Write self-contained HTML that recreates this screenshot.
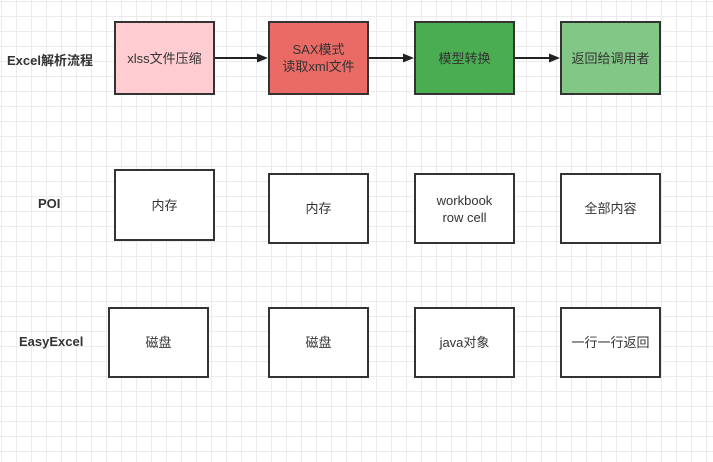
<!DOCTYPE html>
<html><head><meta charset="utf-8"><style>
body{margin:0;width:713px;height:462px;overflow:hidden;background:#fff;
background-image:linear-gradient(#ebebeb 1px,transparent 1px),linear-gradient(90deg,#ebebeb 1px,transparent 1px);
background-size:15px 15px;background-position:1px 1px;font-family:"Liberation Sans","Noto Sans CJK SC",sans-serif;}
.b{position:absolute;box-sizing:border-box;border:2px solid #333;background:#fff;display:flex;align-items:center;justify-content:center;text-align:center;font-size:13px;color:#333;line-height:17px}
.l{position:absolute;font-size:13px;font-weight:bold;color:#333}
</style></head><body>
<div class="l" style="left:7px;top:50px">Excel解析流程</div>
<div class="l" style="left:38px;top:196px">POI</div>
<div class="l" style="left:19px;top:334px">EasyExcel</div>
<div class="b" style="left:114px;top:21px;width:101px;height:74px;background:#ffcdd1">xlss文件压缩</div>
<div class="b" style="left:268px;top:21px;width:101px;height:74px;background:#ea6b66">SAX模式<br>读取xml文件</div>
<div class="b" style="left:414px;top:21px;width:101px;height:74px;background:#4aad52">模型转换</div>
<div class="b" style="left:560px;top:21px;width:101px;height:74px;background:#82c785">返回给调用者</div>
<div class="b" style="left:114px;top:169px;width:101px;height:72px">内存</div>
<div class="b" style="left:268px;top:173px;width:101px;height:71px">内存</div>
<div class="b" style="left:414px;top:173px;width:101px;height:71px">workbook<br>row cell</div>
<div class="b" style="left:560px;top:173px;width:101px;height:71px">全部内容</div>
<div class="b" style="left:108px;top:307px;width:101px;height:71px">磁盘</div>
<div class="b" style="left:268px;top:307px;width:101px;height:71px">磁盘</div>
<div class="b" style="left:414px;top:307px;width:101px;height:71px">java对象</div>
<div class="b" style="left:560px;top:307px;width:101px;height:71px">一行一行返回</div>
<svg width="713" height="462" style="position:absolute;left:0;top:0">
<g stroke="#222" stroke-width="2"><line x1="215" y1="58" x2="258" y2="58"/><line x1="369" y1="58" x2="404" y2="58"/><line x1="515" y1="58" x2="550" y2="58"/></g>
<g fill="#222"><path d="M268 58l-11-4.5v9z"/><path d="M414 58l-11-4.5v9z"/><path d="M560 58l-11-4.5v9z"/></g>
</svg>
</body></html>
